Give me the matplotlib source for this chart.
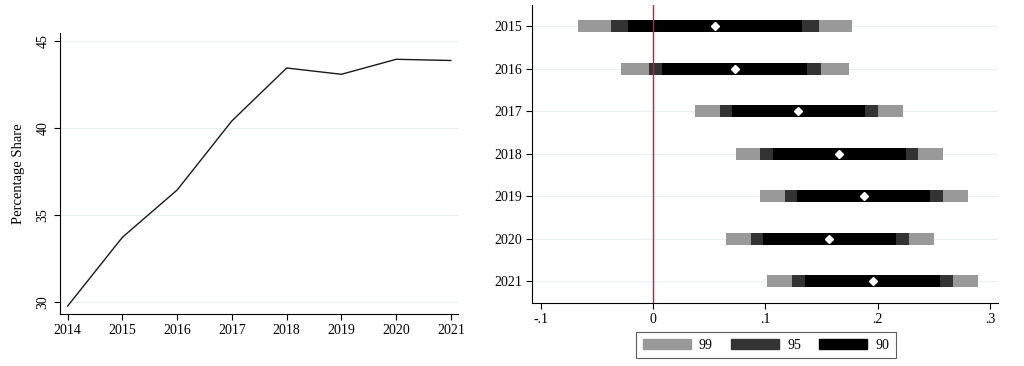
import numpy as np
import matplotlib.pyplot as plt
from matplotlib.patches import Patch

plt.rcParams['font.family'] = ['Liberation Serif', 'DejaVu Serif']

# left panel: share by year
years = [2014, 2015, 2016, 2017, 2018, 2019, 2020, 2021]
share = [29.79, 33.73, 36.44, 40.40, 43.43, 43.07, 43.93, 43.86]

# right panel: coefficient estimates with CIs
coef_years = ['2015', '2016', '2017', '2018', '2019', '2020', '2021']
point = [0.0554, 0.0729, 0.1295, 0.1653, 0.1879, 0.1570, 0.1956]
lo99 = [-0.0667, -0.0281, 0.0370, 0.0735, 0.0951, 0.0649, 0.1019]
lo95 = [-0.0373, -0.0039, 0.0593, 0.0954, 0.1176, 0.0868, 0.1241]
lo90 = [-0.0225, 0.0083, 0.0702, 0.1070, 0.1286, 0.0981, 0.1354]
hi90 = [0.1330, 0.1375, 0.1890, 0.2249, 0.2468, 0.2166, 0.2554]
hi95 = [0.1479, 0.1499, 0.2003, 0.2361, 0.2584, 0.2279, 0.2667]
hi99 = [0.1769, 0.1742, 0.2222, 0.2581, 0.2803, 0.2498, 0.2889]

grid_col = '#e8f0f2'
fig = plt.figure(figsize=(10.24, 3.66), dpi=100)

# ---- left
ax1 = fig.add_axes([0.0586, 0.142, 0.3887, 0.768])
ax1.plot(years, share, color='#1a1a1a', lw=1.0)
ax1.set_xlim(2013.86, 2021.13)
ax1.set_ylim(29.33, 45.44)
ax1.set_xticks(years)
ax1.set_yticks([30, 35, 40, 45])
ax1.set_yticklabels(['30', '35', '40', '45'], rotation=90, va='center')
for v in [30, 35, 40, 45]:
    ax1.axhline(v, color=grid_col, lw=0.8, zorder=0)
ax1.spines['top'].set_visible(False)
ax1.spines['right'].set_visible(False)
ax1.tick_params(labelsize=10, length=4, width=0.8)
ax1.set_ylabel('Percentage Share', fontsize=10.5, labelpad=8)

# ---- right
ax2 = fig.add_axes([0.5198, 0.173, 0.4548, 0.8133])
pos = np.arange(len(coef_years))
h = 0.28
lo99 = np.array(lo99); lo95 = np.array(lo95); lo90 = np.array(lo90)
hi90 = np.array(hi90); hi95 = np.array(hi95); hi99 = np.array(hi99)
for v in pos:
    ax2.axhline(v, color=grid_col, lw=0.8, zorder=0)
ax2.barh(pos, hi99 - lo99, left=lo99, height=h, color='#999999', zorder=2)
ax2.barh(pos, hi95 - lo95, left=lo95, height=h, color='#333333', zorder=3)
ax2.barh(pos, hi90 - lo90, left=lo90, height=h, color='black', zorder=4)
ax2.axvline(0, color='#d4163f', lw=1.0, zorder=5)
ax2.plot(point, pos, linestyle='none', marker='D', ms=4.5, color='white', zorder=6)
ax2.set_ylim(6.5, -0.5)
ax2.set_xlim(-0.1075, 0.3071)
ax2.set_yticks(pos)
ax2.set_yticklabels(coef_years)
ax2.set_xticks([-0.1, 0, 0.1, 0.2, 0.3])
ax2.set_xticklabels(['-.1', '0', '.1', '.2', '.3'])
ax2.spines['top'].set_visible(False)
ax2.spines['right'].set_visible(False)
ax2.tick_params(labelsize=10, length=4, width=0.8)

handles = [Patch(color='#999999', label='99'), Patch(color='#333333', label='95'),
           Patch(color='black', label='90')]
leg = fig.legend(handles=handles, ncol=3, loc='center', bbox_to_anchor=(0.748, 0.057),
                 fontsize=10, frameon=True, fancybox=False, handlelength=3.45,
                 handleheight=0.8, columnspacing=1.3, handletextpad=0.6, borderpad=0.45)
leg.get_frame().set_edgecolor('#333333')
leg.get_frame().set_linewidth(0.8)

fig.savefig('out.png', dpi=100)
